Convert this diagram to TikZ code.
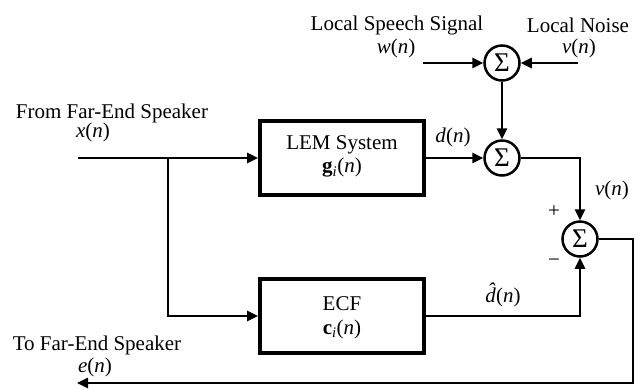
\documentclass[tikz,border=0pt]{standalone}
\usepackage{fontspec}
\setmainfont{Liberation Serif}
\usetikzlibrary{arrows.meta}
\begin{document}
\begin{tikzpicture}[x=1pt,y=-1pt,
  every node/.style={font=\fontsize{21}{24}\selectfont, inner sep=0pt},
  wire/.style={line width=2.5pt},
  arr/.style={wire, -{Triangle[length=11pt,width=10pt]}},
  blockbox/.style={draw, line width=3.6pt, minimum width=164pt, minimum height=74pt},
  sumnode/.style={draw, circle, line width=2.5pt, minimum size=35pt, font=\fontsize{27}{29}\selectfont}]
\useasboundingbox (0,0) rectangle (643,389);
% blocks
\node[blockbox] (LEM) at (342,158) {};
\node (LEMt1) at (342,145) {LEM System};
\node (LEMt2) at (342,168) {\textbf{g}\textsubscript{\textit{i}}(\textit{n})};
\node[blockbox] (ECF) at (342,316) {};
\node (ECFt1) at (342,304) {ECF};
\node (ECFt2) at (342,329) {\textbf{c}\textsubscript{\textit{i}}(\textit{n})};
% summing junctions
\node[sumnode] (S1) at (502,63) {Σ};
\node[sumnode] (S2) at (502,158) {Σ};
\node[sumnode] (S3) at (580,239) {Σ};
% labels
\node (lss) at (397,25) {Local Speech Signal};
\node (wn) at (396,48) {\textit{w}(\textit{n})};
\node (ln) at (578,25) {Local Noise};
\node (vn) at (579,48) {\textit{v}(\textit{n})};
\node (from) at (112,113) {From Far-End Speaker};
\node (xn) at (93,132) {\textit{x}(\textit{n})};
\node (to) at (97,345) {To Far-End Speaker};
\node (en) at (95,367) {\textit{e}(\textit{n})};
\node (dn) at (453,137) {\textit{d}(\textit{n})};
\node (vn2) at (612,190) {\textit{v}(\textit{n})};
\node (dhat) at (503,295) {\textit{d}\llap{\raisebox{0.2em}{\textit{ˆ}}\hspace{0.03em}}(\textit{n})};
\node (plus) at (554,212) {+};
\node (minus) at (554,263) {−};
% coordinates
\coordinate (win) at (423,63);
\coordinate (vin) at (578,63);
\coordinate (xin) at (78,158);
\coordinate (br) at (168,158);
\coordinate (c1) at (633,239);
\coordinate (eout) at (77,383);
% connectors
\draw[arr] (win) -- (S1);
\draw[arr] (vin) -- (S1);
\draw[arr] (S1) -- (S2);
\draw[arr] (xin) -- (LEM);
\draw[arr] (br) |- (ECF);
\draw[arr] (LEM) -- (S2);
\draw[arr] (S2) -| (S3);
\draw[arr] (ECF) -| (S3);
\draw[arr] (S3) -- (c1) |- (eout);
\end{tikzpicture}
\end{document}
